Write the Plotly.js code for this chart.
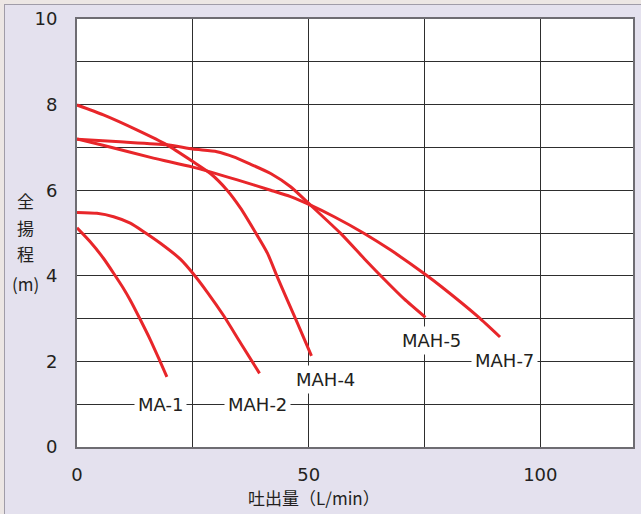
<!DOCTYPE html>
<html>
<head>
<meta charset="utf-8">
<script src="https://cdn.plot.ly/plotly-3.0.1.min.js"></script>
<style>
  html, body { margin: 0; padding: 0; background: #ece6e4; width: 641px; height: 514px; overflow: hidden; }
  #chart { position: absolute; left: 4px; top: 4px; width: 636px; height: 509px;
           border-left: 1px solid #a09ca8; border-top: 1px solid #a09ca8; }
</style>
</head>
<body>
<div id="chart"></div>
<script>
// Flow (L/min) and total head (m)
const ma1_x  = [0, 2.8, 5.7, 7.9, 10.0, 11.5, 13.6, 15.8, 17.6, 19.4];
const ma1_y  = [5.12, 4.80, 4.41, 4.06, 3.71, 3.43, 2.99, 2.51, 2.08, 1.64];

const mah2_x = [0, 4.3, 7.9, 11.5, 14.4, 18.0, 22.3, 25.0, 28.1, 31.7, 35.3, 39.4];
const mah2_y = [5.48, 5.46, 5.38, 5.23, 5.03, 4.76, 4.39, 4.06, 3.62, 3.06, 2.43, 1.72];

const mah4_x = [0, 5.7, 12.9, 19.4, 25, 28.8, 32.4, 35.3, 38.2, 41.1, 43.2, 45.4, 47.6, 50.6];
const mah4_y = [7.99, 7.76, 7.41, 7.06, 6.67, 6.39, 6.0, 5.58, 5.07, 4.53, 3.98, 3.43, 2.89, 2.13];

const mah5_x = [0, 9.3, 19.4, 25, 30.2, 33.8, 37.4, 41.8, 46.1, 50.4, 56.9, 62, 66.3, 70.6, 75.2];
const mah5_y = [7.19, 7.13, 7.06, 6.96, 6.90, 6.78, 6.61, 6.39, 6.08, 5.65, 4.99, 4.40, 3.92, 3.46, 3.03];

const mah7_x = [0, 5.6, 16.5, 25, 34.6, 41.8, 46.1, 50.4, 55.5, 62, 67.7, 75.2, 78.6, 86.6, 91.3];
const mah7_y = [7.2, 7.05, 6.75, 6.54, 6.24, 6.0, 5.85, 5.65, 5.38, 4.99, 4.6, 4.03, 3.75, 3.04, 2.57];

const labelText = ["MA-1", "MAH-2", "MAH-4", "MAH-5", "MAH-7"];
const labelX    = [18, 39, 53.7, 76.6, 92.2];
const labelY    = [1.0, 1.0, 1.57, 2.5, 2.03];

const yTitleChars = ["全", "揚", "程", "(m)"];
const yTitlePos   = [5.77, 5.12, 4.53, 3.83];

const xTickVals = [0, 50, 100];
const yTickVals = [0, 2, 4, 6, 8, 10];

const red = "#e8262a";
const series = [[ma1_x, ma1_y], [mah2_x, mah2_y], [mah4_x, mah4_y], [mah5_x, mah5_y], [mah7_x, mah7_y]];
const traces = series.map((s, i) => ({
  x: s[0], y: s[1], type: "scatter", mode: "lines", name: labelText[i],
  line: { color: red, width: 3, shape: "spline", smoothing: 0.6 },
  hoverinfo: "skip"
}));

const annotations = [];
labelText.forEach((t, i) => annotations.push({
  x: labelX[i], y: labelY[i], xref: "x", yref: "y", text: t, showarrow: false,
  font: { family: "DejaVu Sans, sans-serif", size: 18, color: "#231f20" },
  bgcolor: "#ffffff", borderpad: 3, xanchor: "center", yanchor: "middle"
}));
yTitleChars.forEach((c, i) => annotations.push({
  x: -0.092, y: yTitlePos[i], xref: "paper", yref: "y", text: c, showarrow: false,
  font: { family: "Noto Sans CJK JP, sans-serif", size: 17, color: "#231f20" },
  xanchor: "center", yanchor: "middle"
}));
annotations.push({
  x: 51.2, y: -0.118, xref: "x", yref: "paper", text: "吐出量（L/min）", showarrow: false,
  font: { family: "Noto Sans CJK JP, sans-serif", size: 17, color: "#231f20" },
  xanchor: "center", yanchor: "middle"
});

const gridCol = "#2e2e2e";
const layout = {
  width: 636, height: 509,
  margin: { l: 72, r: 8, t: 14, b: 67, pad: 0 },
  paper_bgcolor: "#e4e1ee",
  plot_bgcolor: "#ffffff",
  showlegend: false,
  font: { family: "DejaVu Sans, sans-serif", size: 18, color: "#231f20" },
  xaxis: {
    range: [0, 120], tickvals: xTickVals, ticks: "", ticklabelstandoff: 10,
    showgrid: true, gridcolor: gridCol, gridwidth: 1, zeroline: false,
    minor: { dtick: 25, tick0: 0, showgrid: true, gridcolor: gridCol, gridwidth: 1 },
    showline: true, linecolor: "#6e6c72", linewidth: 2, mirror: true,
    tickfont: { family: "DejaVu Sans, sans-serif", size: 18, color: "#231f20" },
    fixedrange: true
  },
  yaxis: {
    range: [0, 10], tickvals: yTickVals, ticks: "", ticklabelstandoff: 14,
    showgrid: true, gridcolor: gridCol, gridwidth: 1, zeroline: false,
    minor: { dtick: 1, tick0: 0, showgrid: true, gridcolor: gridCol, gridwidth: 1 },
    showline: true, linecolor: "#6e6c72", linewidth: 2, mirror: true,
    tickfont: { family: "DejaVu Sans, sans-serif", size: 18, color: "#231f20" },
    fixedrange: true
  },
  annotations: annotations
};

Plotly.newPlot("chart", traces, layout, { displayModeBar: false, staticPlot: true });
</script>
</body>
</html>
